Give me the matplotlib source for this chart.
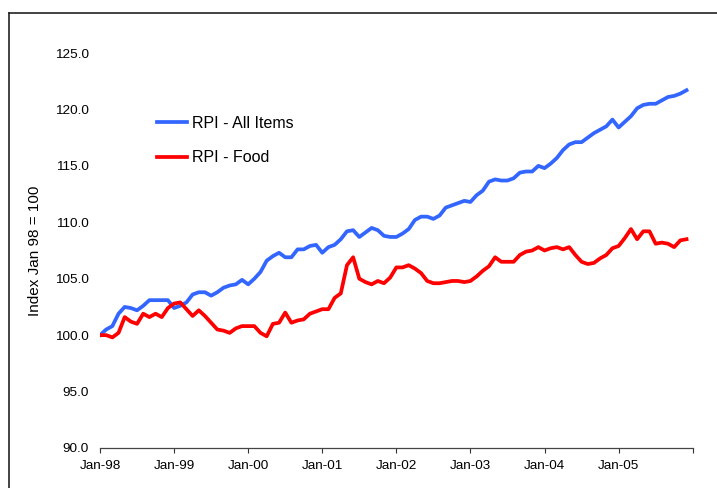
"""
plot.py
RPI all items vs RPI food, indexed to Jan 98 = 100
"""
import matplotlib
matplotlib.use('Agg')
import matplotlib.pyplot as plt
from matplotlib.lines import Line2D

plt.rcParams['font.family'] = ['Liberation Sans', 'DejaVu Sans']

# Monthly series, Jan-98 .. Dec-05
months = list(range(96))

rpi_all = [
    100.0, 100.5, 100.8, 101.9, 102.5, 102.4, 102.2, 102.6, 103.1, 103.1, 103.1, 103.1,
    102.4, 102.6, 102.9, 103.6, 103.8, 103.8, 103.5, 103.8, 104.2, 104.4, 104.5, 104.9,
    104.5, 105.0, 105.6, 106.6, 107.0, 107.3, 106.9, 106.9, 107.6, 107.6, 107.9, 108.0,
    107.3, 107.8, 108.0, 108.5, 109.2, 109.3, 108.7, 109.1, 109.5, 109.3, 108.8, 108.7,
    108.7, 109.0, 109.4, 110.2, 110.5, 110.5, 110.3, 110.6, 111.3, 111.5, 111.7, 111.9,
    111.8, 112.4, 112.8, 113.6, 113.8, 113.7, 113.7, 113.9, 114.4, 114.5, 114.5, 115.0,
    114.8, 115.2, 115.7, 116.4, 116.9, 117.1, 117.1, 117.5, 117.9, 118.2, 118.5, 119.1,
    118.4, 118.9, 119.4, 120.1, 120.4, 120.5, 120.5, 120.8, 121.1, 121.2, 121.4, 121.7,
]

rpi_food = [
    100.0, 100.0, 99.8, 100.2, 101.6, 101.2, 101.0, 101.9, 101.6, 101.9, 101.6, 102.4,
    102.8, 102.9, 102.3, 101.7, 102.2, 101.7, 101.1, 100.5, 100.4, 100.2, 100.6, 100.8,
    100.8, 100.8, 100.2, 99.9, 101.0, 101.1, 102.0, 101.1, 101.3, 101.4, 101.9, 102.1,
    102.3, 102.3, 103.3, 103.7, 106.2, 106.9, 105.0, 104.7, 104.5, 104.8, 104.6, 105.1,
    106.0, 106.0, 106.2, 105.9, 105.5, 104.8, 104.6, 104.6, 104.7, 104.8, 104.8, 104.7,
    104.8, 105.2, 105.7, 106.1, 106.9, 106.5, 106.5, 106.5, 107.1, 107.4, 107.5, 107.8,
    107.5, 107.7, 107.8, 107.6, 107.8, 107.1, 106.5, 106.3, 106.4, 106.8, 107.1, 107.7,
    107.9, 108.6, 109.4, 108.5, 109.2, 109.2, 108.1, 108.2, 108.1, 107.8, 108.4, 108.5,
]

year_labels = ['Jan-98', 'Jan-99', 'Jan-00', 'Jan-01', 'Jan-02', 'Jan-03', 'Jan-04', 'Jan-05', '']
y_ticks = [90, 95, 100, 105, 110, 115, 120, 125]

fig = plt.figure(figsize=(7.17, 4.88), dpi=100)
ax = fig.add_axes([100 / 717, 1 - 448 / 488, 592.7 / 717, 395 / 488])

ax.plot(months, rpi_all, color='#3366ff', lw=2.7, label='RPI - All Items', solid_joinstyle='round')
ax.plot(months, rpi_food, color='#ff0000', lw=2.7, label='RPI - Food', solid_joinstyle='round')

ax.set_xlim(0, 96)
ax.set_ylim(90, 125)
ax.set_xticks(range(0, 97, 12))
ax.set_xticklabels(year_labels, fontsize=9.7)
ax.set_yticks(y_ticks)
ax.set_yticklabels([f'{v:.1f}' for v in y_ticks], fontsize=9.7)
ax.tick_params(axis='x', direction='out', length=3.5, width=0.8, color='#333333', pad=5)
ax.tick_params(axis='y', length=0, pad=8)

for side in ['top', 'right', 'left']:
    ax.spines[side].set_visible(False)
ax.spines['bottom'].set_color('#444444')
ax.spines['bottom'].set_linewidth(0.9)

ax.set_ylabel('Index Jan 98 = 100', fontsize=11, labelpad=9)

ax.legend(loc='upper left', bbox_to_anchor=(157 / 717, 1 - 115.5 / 488), bbox_transform=fig.transFigure,
          frameon=False, fontsize=11.5, handlelength=1.9, handletextpad=0.3,
          labelspacing=1.25, borderpad=0, borderaxespad=0)

# outer chart border (cut off at right and bottom)
fig.add_artist(Line2D([9 / 717, 9 / 717], [0, 1 - 13 / 488], color='#222222', lw=1.2))
fig.add_artist(Line2D([9 / 717, 1], [1 - 13 / 488, 1 - 13 / 488], color='#222222', lw=1.2))

fig.savefig('out.png', dpi=100)
